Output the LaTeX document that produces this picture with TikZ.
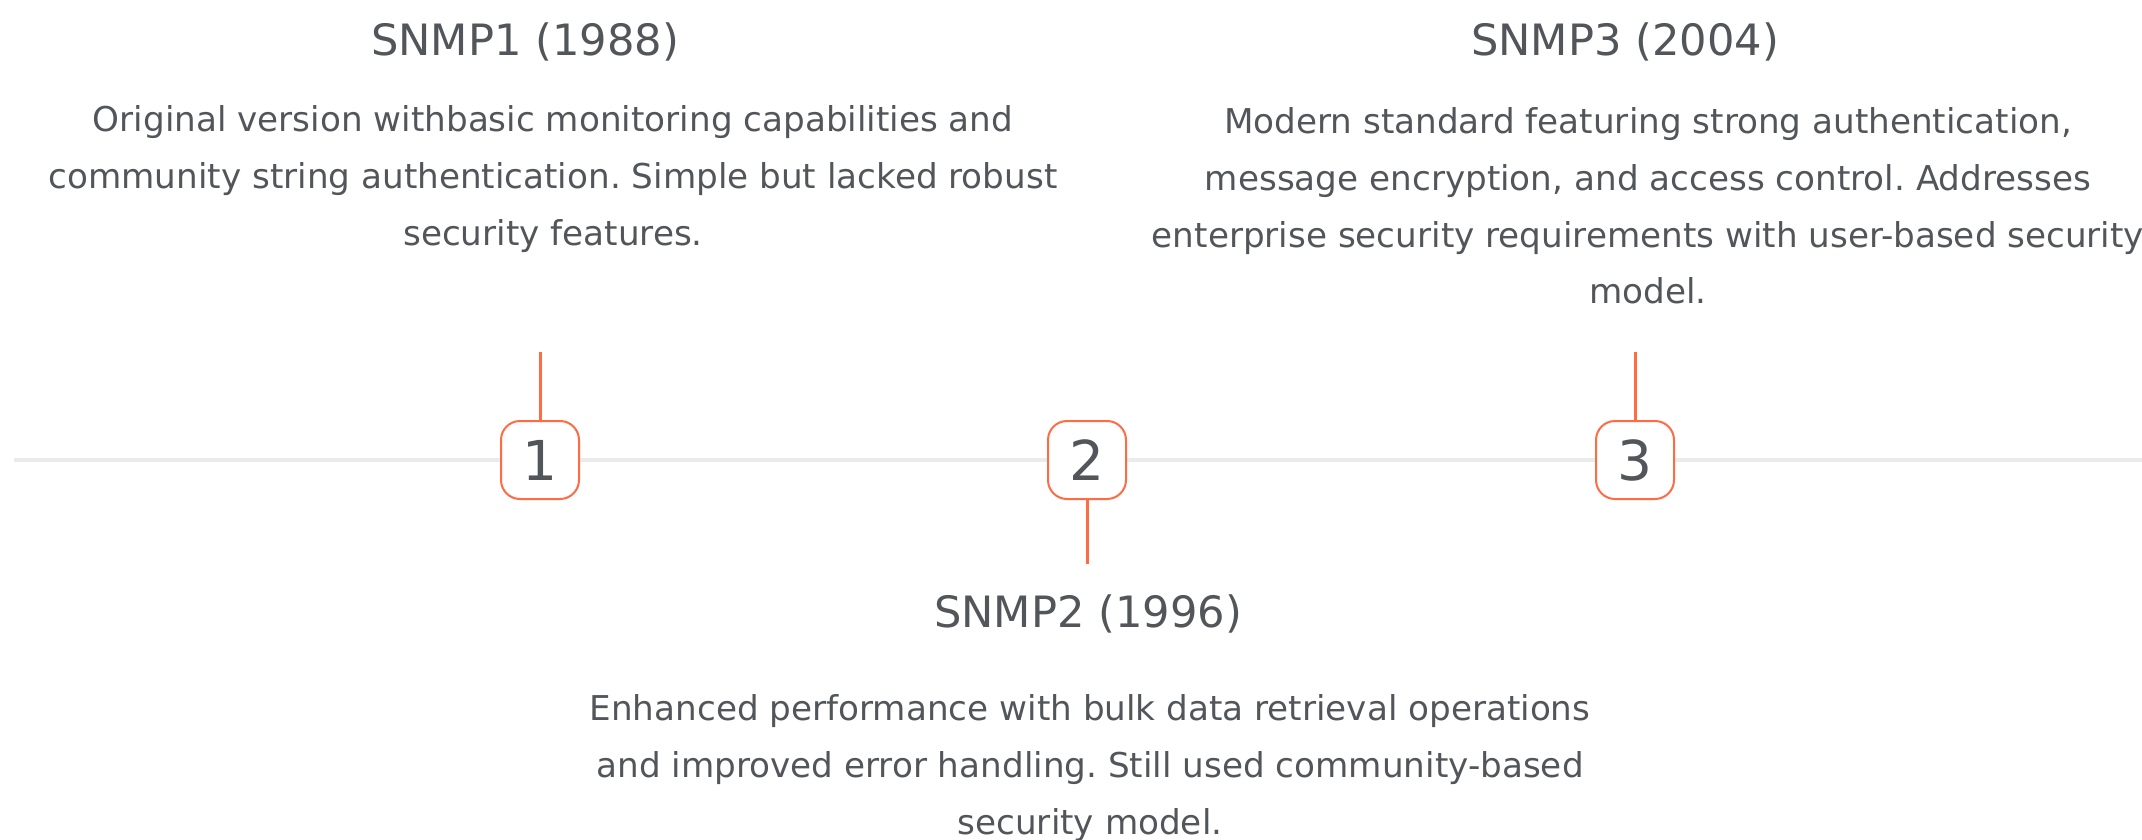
\documentclass[tikz,border=0pt]{standalone}
\usepackage{fontspec}
\setmainfont{DejaVu Sans}
\definecolor{txt}{HTML}{52565A}
\definecolor{acc}{HTML}{FF6B42}
\definecolor{tl}{HTML}{EBEBEB}
\frenchspacing
\begin{document}
\begin{tikzpicture}[x=0.5pt,y=-0.5pt,
  numbox/.style={draw=acc, line width=1pt, fill=white, rounded corners=9.5pt, minimum width=39pt, minimum height=39pt, inner sep=0pt, text=txt, font=\fontsize{27.5}{32}\selectfont},
  title/.style={text=txt, inner sep=0pt, anchor=base, font=\fontsize{21.6}{26}\selectfont},
  body/.style={text=txt, inner sep=0pt, align=center, font=\fontsize{17.1}{28.3}\selectfont},
  stem/.style={draw=acc, line width=1.5pt},
  timeline/.style={draw=tl, line width=2pt}]
\useasboundingbox (0,0) rectangle (2142,840);
\coordinate (tls) at (14,460);
\coordinate (tle) at (2142,460);
\draw[timeline] (tls) -- (tle);
\node[numbox] (b1) at (540,460) {1};
\node[numbox] (b2) at (1087,460) {2};
\node[numbox] (b3) at (1635,460) {3};
\coordinate (s1) at (540,352);
\coordinate (s2) at (1087,564);
\coordinate (s3) at (1635,352);
\draw[stem] (b1.north) -- (s1);
\draw[stem] (b2.south) -- (s2);
\draw[stem] (b3.north) -- (s3);
\node[title] (t1) at (525,56) {SNMP1 (1988)};
\node[title] (t2) at (1088,627) {SNMP2 (1996)};
\node[title] (t3) at (1625,56) {SNMP3 (2004)};
\node[body] (d1) at (553,179) {Original version withbasic monitoring capabilities and\\community string authentication. Simple but lacked robust\\security features.};
\node[body] (d2) at (1090,768) {Enhanced performance with bulk data retrieval operations\\and improved error handling. Still used community-based\\security model.};
\node[body] (d3) at (1648,206) {Modern standard featuring strong authentication,\\message encryption, and access control. Addresses\\enterprise security requirements with user-based security\\model.};
\end{tikzpicture}
\end{document}
